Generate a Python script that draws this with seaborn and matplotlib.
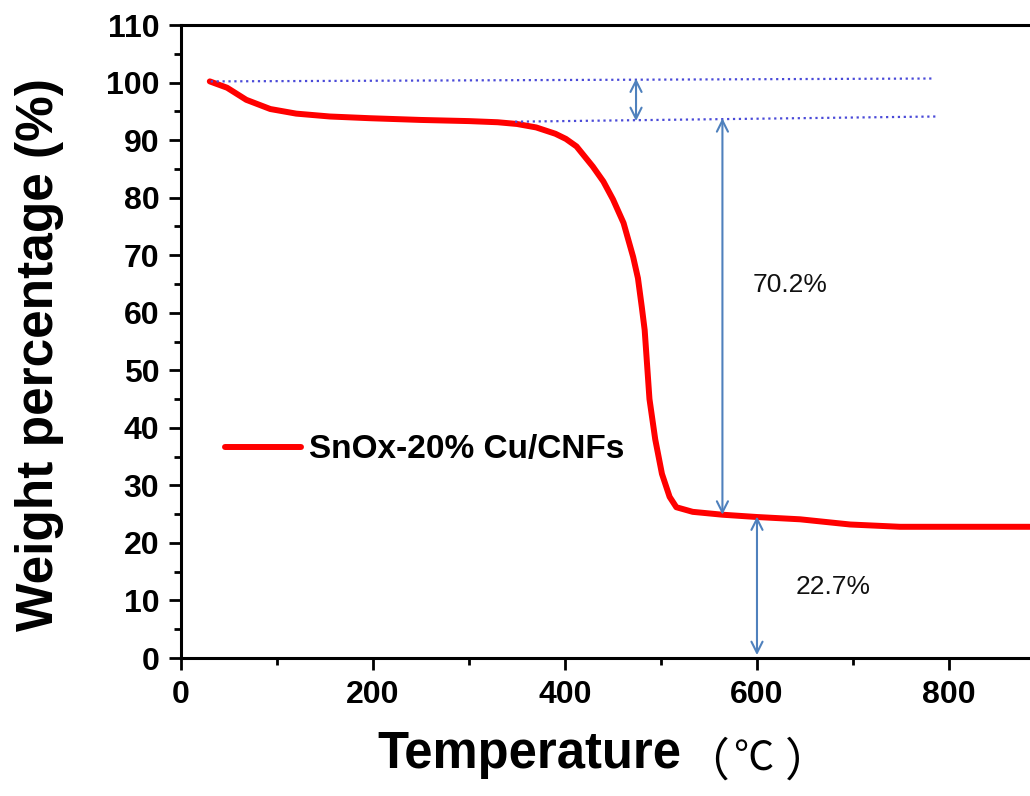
import numpy as np
import pandas as pd
import seaborn as sns
import matplotlib.pyplot as plt
from matplotlib.ticker import MultipleLocator

# TGA curve
temperature = [30, 48, 68, 93, 120, 155, 197, 250, 300, 330, 350, 370, 390, 401, 412,
               429, 440, 450, 461, 471, 476, 480, 483, 488, 494, 501, 506, 509,
               516, 533, 564, 600, 645, 697, 749, 819, 884]
weight = [100.2, 99.1, 97.0, 95.4, 94.6, 94.1, 93.8, 93.5, 93.3, 93.1, 92.8, 92.2,
          91.1, 90.2, 88.9, 85.4, 82.8, 79.7, 75.6, 69.7, 66.0, 61.0, 57.0, 45.0, 38.0,
          32.0, 29.5, 28.0, 26.2, 25.4, 24.9, 24.5, 24.1, 23.2, 22.8, 22.8, 22.8]
series_name = "SnOx-20% Cu/CNFs"

# guide lines (dotted) and the arrows with their labels
guide_upper_x = [31, 783]
guide_upper_y = [100.2, 100.7]
guide_lower_x = [348, 787]
guide_lower_y = [93.2, 94.1]
arrow_x = [474, 564, 600]
arrow_top = [100.7, 93.8, 24.6]
arrow_bottom = [93.3, 24.9, 0.5]
label_text = ["70.2%", "22.7%"]
label_x = [634, 679]
label_y = [64.9, 12.3]

df = pd.DataFrame({"Temperature": temperature, "Weight": weight})

sns.set_style("ticks")
plt.rcParams['font.family'] = ['Liberation Sans', 'DejaVu Sans']
plt.rcParams['text.color'] = 'black'
plt.rcParams['axes.labelcolor'] = 'black'
plt.rcParams['xtick.color'] = 'black'
plt.rcParams['ytick.color'] = 'black'

fig = plt.figure(figsize=(10.3, 7.96), dpi=100)
ax = fig.add_axes([181 / 1030, 1 - 658 / 796, 849 / 1030, 633 / 796])

sns.lineplot(data=df, x="Temperature", y="Weight", color="#ff0000", lw=4.3,
             label=series_name, ax=ax)

ax.plot(guide_upper_x, guide_upper_y, ls=":", color="#4a4ad8", lw=1.6)
ax.plot(guide_lower_x, guide_lower_y, ls=":", color="#4a4ad8", lw=1.6)

for x, top, bot in zip(arrow_x, arrow_top, arrow_bottom):
    ax.annotate("", xy=(x, bot), xytext=(x, top),
                arrowprops=dict(arrowstyle="<->,head_length=0.8,head_width=0.4",
                                color="#4f81bd", lw=1.5, shrinkA=0, shrinkB=0))

for t, x, y in zip(label_text, label_x, label_y):
    ax.text(x, y, t, ha="center", va="center", fontsize=19, color="#111111")

ax.set_xlim(0, 884.4)
ax.set_ylim(0, 110)
ax.xaxis.set_major_locator(MultipleLocator(200))
ax.xaxis.set_minor_locator(MultipleLocator(100))
ax.yaxis.set_major_locator(MultipleLocator(10))
ax.yaxis.set_minor_locator(MultipleLocator(5))
ax.tick_params(which="major", direction="out", length=8.6, width=2, pad=7,
               labelsize=23, color="black", labelcolor="black")
ax.tick_params(which="minor", direction="out", length=5, width=2, color="black")
for lab in ax.get_xticklabels() + ax.get_yticklabels():
    lab.set_fontweight("bold")

for side in ["left", "bottom", "top"]:
    ax.spines[side].set_linewidth(2.2)
    ax.spines[side].set_color("black")
ax.spines["right"].set_visible(False)

ax.set_ylabel("Weight percentage (%)", fontsize=37, fontweight="bold")
ax.yaxis.set_label_coords(-0.138, 0.48)
ax.set_xlabel("Temperature", fontsize=36.5, fontweight="bold")
ax.xaxis.set_label_coords(0.41, -0.113)

# unit part of the x label, drawn thin in a CJK face like the original
cjk = ["Noto Sans CJK SC", "DejaVu Sans"]
fig.text(706 / 1030, 1 - 762 / 796, "（", fontsize=33, ha="center", va="center", family=cjk)
fig.text(753 / 1030, 1 - 759 / 796, "℃", fontsize=29, ha="center", va="center", family=cjk)
fig.text(808 / 1030, 1 - 762 / 796, "）", fontsize=33, ha="center", va="center", family=cjk)

leg = ax.legend(loc="center left", bbox_to_anchor=(0.0518, 0.3286), frameon=False,
                borderaxespad=0, borderpad=0, handlelength=2.27, handletextpad=0.24,
                prop={"size": 24, "weight": "bold"})

fig.savefig("out.png", dpi=100)
